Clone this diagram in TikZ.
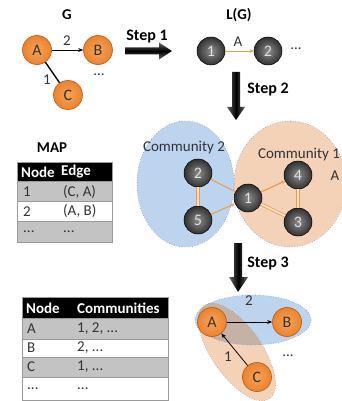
\documentclass[tikz,border=0pt]{standalone}
\usepackage{fontspec}
\setmainfont{Carlito}
\usetikzlibrary{arrows.meta}

\definecolor{orA}{HTML}{F6A458}
\definecolor{orB}{HTML}{EC7E28}
\definecolor{orC}{HTML}{C9600F}
\definecolor{orRim}{HTML}{B45A14}
\definecolor{dkA}{HTML}{8C8C8C}
\definecolor{dkB}{HTML}{2E2E2E}
\definecolor{dkC}{HTML}{080808}
\definecolor{edgeOr}{HTML}{EE9A4E}
\definecolor{edgeIn}{HTML}{FBE3CB}
\definecolor{blueFill}{HTML}{BCD4EE}
\definecolor{peachFill}{HTML}{F3D2B8}
\definecolor{mixFill}{HTML}{C5B2A6}
\definecolor{rimDot}{HTML}{7E98BA}
\definecolor{rowGrey}{HTML}{C3C3C3}
\definecolor{tblLine}{HTML}{9A9A9A}
\definecolor{txtDark}{HTML}{333333}

\pgfdeclareradialshading{orangeball}{\pgfpoint{0bp}{0bp}}{%
  color(0bp)=(orA); color(28bp)=(orB); color(50bp)=(orC); color(100bp)=(orC)}
\pgfdeclareradialshading{darkball}{\pgfpoint{0bp}{0bp}}{%
  color(0bp)=(dkA); color(26bp)=(dkB); color(50bp)=(dkC); color(100bp)=(dkC)}

\tikzset{
  onode/.style={circle, minimum size=29pt, inner sep=0pt, shading=orangeball,
    draw=orRim, line width=0.6pt, text=txtDark, font=\fontsize{16}{18}\selectfont},
  dnode/.style={circle, minimum size=28pt, inner sep=0pt, shading=darkball,
    draw=black, line width=0.5pt, text=white!88!black, font=\fontsize{16}{18}\selectfont},
  darrow/.style={-{Stealth[length=5pt,width=4pt]}, line width=0.8pt, black},
  oline/.style={edgeOr, line width=1.1pt},
  oarrow/.style={oline, -{Stealth[length=4pt,width=3.5pt]}},
  odouble/.style={draw=edgeOr, double=edgeIn, double distance=1.8pt, line width=0.8pt},
  ebord/.style={rimDot, line width=0.6pt, dotted},
  steplbl/.style={font=\bfseries\fontsize{16}{18}\selectfont},
  title/.style={font=\bfseries\fontsize{15}{17}\selectfont},
  plain/.style={font=\fontsize{15}{17}\selectfont, text=txtDark},
  cell/.style={anchor=west, inner sep=0pt, font=\fontsize{15}{17}\selectfont, text=txtDark},
  hcell/.style={anchor=west, inner sep=0pt, font=\bfseries\fontsize{15}{17}\selectfont, text=white},
}

\begin{document}
\begin{tikzpicture}[x=1pt,y=-1pt]
\useasboundingbox (0,0) rectangle (342,401);

% ---------- original graph G ----------
\node[title] (gtitle) at (67,15) {G};
\node[onode] (A) at (37,50) {A};
\node[onode] (B) at (98,50) {B};
\node[onode] (C) at (68,95) {C};
\draw[darrow] (A) -- (B);
\node[plain] (w2) at (67,41) {2};
\draw[black, line width=1.4pt] (C) -- (A);
\node[plain] (w1) at (47,80) {1};
\node[plain] (gdots) at (99,75) {...};

% ---------- step 1 ----------
\node[steplbl] (s1) at (147,37) {Step 1};
\shade[top color=gray!80!black, bottom color=gray!80!black, middle color=black]
  (125,47.5) -- (159,47.5) -- (159,42.5) -- (172,51) -- (159,59.5) -- (159,54.5) -- (125,54.5) -- cycle;

% ---------- line graph L(G) ----------
\node[title] (lgtitle) at (239,15) {L(G)};
\node[dnode] (l1) at (211,51) {1};
\node[dnode] (l2) at (268,51) {2};
\draw[oarrow, line width=0.8pt] (l1) -- (l2);
\node[plain] (la) at (238,42) {A};
\node[plain] (ldots) at (296,49) {...};

% ---------- step 2 ----------
\shade[left color=gray!80!black, right color=gray!80!black, middle color=black]
  (232,72) -- (240,72) -- (240,107) -- (245,107) -- (236,120) -- (227,107) -- (232,107) -- cycle;
\node[steplbl] (s2) at (268,90) {Step 2};

% ---------- communities ----------
\fill[peachFill] (290,184) ellipse [x radius=56, y radius=63];
\draw[ebord] (290,184) ellipse [x radius=56, y radius=63];
\fill[blueFill] (185.5,184) ellipse [x radius=48.5, y radius=63];
\draw[ebord] (185.5,184) ellipse [x radius=48.5, y radius=63];
\node[plain] (c2) at (184,148) {Community 2};
\node[plain] (c1) at (299,155) {Community 1};
\node[plain] (ca) at (335,176) {A};

\node[dnode] (n2) at (198,173) {2};
\node[dnode] (n5) at (198,220) {5};
\node[dnode] (n1) at (248,198) {1};
\node[dnode] (n4) at (298,175) {4};
\node[dnode] (n3) at (298,222) {3};
\draw[odouble] (n2) -- (n5);
\draw[odouble] (n4) -- (n3);
\draw[odouble] (n1) -- (n3);
\draw[oline] (n2) -- (n1);
\draw[oarrow] (n5) -- (n1);
\draw[oarrow] (n1) -- (n4);

% ---------- MAP table ----------
\node[title] (maptitle) at (52,148) {MAP};
\fill[black] (17,162) rectangle (112,181);
\fill[rowGrey] (17,181) rectangle (112,201);
\fill[white] (17,201) rectangle (112,221);
\fill[rowGrey] (17,221) rectangle (112,242);
\draw[tblLine, line width=0.5pt] (17,181) -- (112,181) (17,201) -- (112,201) (17,221) -- (112,221);
\draw[tblLine, line width=0.7pt] (17,162) rectangle (112,242);
\node[hcell] (mh1) at (21,172) {Node};
\node[hcell] (mh2) at (61,172) {Edge};
\node[cell] (m11) at (23,192) {1};
\node[cell] (m12) at (63,192) {(C, A)};
\node[cell] (m21) at (23,211.5) {2};
\node[cell] (m22) at (63,211.5) {(A, B)};
\node[cell] (m31) at (23,232) {...};
\node[cell] (m32) at (63,232) {...};

% ---------- step 3 ----------
\shade[left color=gray!80!black, right color=gray!80!black, middle color=black]
  (234,243) -- (242,243) -- (242,277) -- (248,277) -- (238,292) -- (229,277) -- (234,277) -- cycle;
\node[steplbl] (s3) at (268,264) {Step 3};

% ---------- overlapping communities in G ----------
\fill[blueFill] (253,320) ellipse [x radius=58, y radius=25];
\fill[peachFill, rotate around={-55:(237,352)}] (237,352) ellipse [x radius=57, y radius=25];
\begin{scope}
  \clip (253,320) ellipse [x radius=58, y radius=25];
  \fill[mixFill, rotate around={-55:(237,352)}] (237,352) ellipse [x radius=57, y radius=25];
\end{scope}
\draw[ebord] (253,320) ellipse [x radius=58, y radius=25];
\draw[ebord, rotate around={-55:(237,352)}] (237,352) ellipse [x radius=57, y radius=25];

\node[onode] (A2) at (212,322) {A};
\node[onode] (B2) at (287,322) {B};
\node[onode] (C2) at (257,377) {C};
\draw[darrow] (A2) -- (B2);
\draw[darrow] (C2) -- (A2);
\node[plain] (v2) at (249,301) {2};
\node[plain] (v1) at (228,357) {1};
\node[plain] (bdots) at (288,356) {...};

% ---------- node-to-community table ----------
\fill[black] (22,297) rectangle (168,318);
\fill[rowGrey] (22,318) rectangle (168,339);
\fill[white] (22,339) rectangle (168,357);
\fill[rowGrey] (22,357) rectangle (168,377);
\fill[white] (22,377) rectangle (168,400);
\draw[tblLine, line width=0.5pt] (22,318) -- (168,318) (22,339) -- (168,339)
  (22,357) -- (168,357) (22,377) -- (168,377);
\draw[tblLine, line width=0.7pt] (22,297) rectangle (168,400);
\node[hcell] (th1) at (26,308) {Node};
\node[hcell] (th2) at (77,308) {Communities};
\node[cell] (t11) at (27,329) {A};
\node[cell] (t12) at (77,329) {1, 2, ...};
\node[cell] (t21) at (27,348) {B};
\node[cell] (t22) at (77,348) {2, ...};
\node[cell] (t31) at (27,367) {C};
\node[cell] (t32) at (77,367) {1, ...};
\node[cell] (t41) at (27,389) {...};
\node[cell] (t42) at (77,389) {...};
\end{tikzpicture}
\end{document}
